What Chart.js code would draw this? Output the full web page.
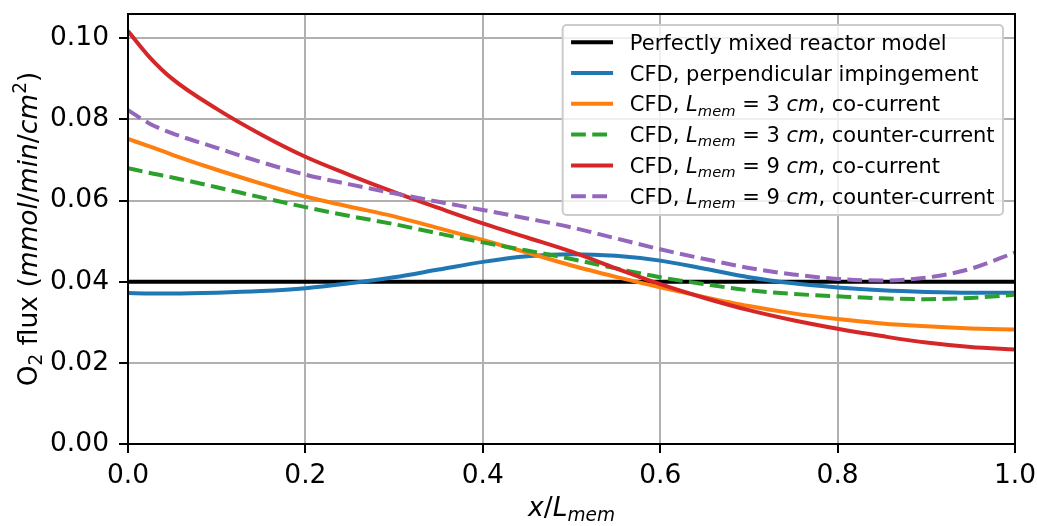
<!DOCTYPE html>
<html>
<head>
<meta charset="utf-8">
<script src="https://cdn.jsdelivr.net/npm/chart.js@4.4.1/dist/chart.umd.min.js"></script>
<style>
  html, body { margin: 0; padding: 0; background: #fff; }
  #wrap { width: 1037px; height: 526px; position: relative; }
</style>
</head>
<body>
<div id="wrap"><canvas id="fluxChart"></canvas></div>
<script>
// x / L_mem sample positions (shared by the CFD curves)
const xPos = [0, 0.025, 0.05, 0.1, 0.15, 0.2, 0.25, 0.3, 0.35, 0.4, 0.45, 0.5,
              0.55, 0.6, 0.65, 0.7, 0.75, 0.8, 0.85, 0.9, 0.95, 1.0];

// perfectly mixed reactor model (flat)
const mixedX = [0, 1];
const mixedY = [0.04, 0.04];

const perpImp = [0.0372, 0.0371, 0.0371, 0.0373, 0.0377, 0.0384, 0.0396, 0.0411, 0.0430, 0.0449, 0.0463, 0.0468,
                 0.0464, 0.0452, 0.0432, 0.0411, 0.0396, 0.0386, 0.0379, 0.0375, 0.0373, 0.0373];
const co3 = [0.0752, 0.0733, 0.0713, 0.0676, 0.0642, 0.0610, 0.0585, 0.0561, 0.0532, 0.0503, 0.0472, 0.0440,
             0.0412, 0.0386, 0.0362, 0.0340, 0.0322, 0.0308, 0.0297, 0.0290, 0.0285, 0.0282];
const counter3 = [0.0680, 0.0668, 0.0657, 0.0633, 0.0608, 0.0584, 0.0562, 0.0542, 0.0519, 0.0497, 0.0477, 0.0456,
                  0.0433, 0.0411, 0.0394, 0.0379, 0.0370, 0.0364, 0.0359, 0.0357, 0.0360, 0.0368];
const co9 = [0.1018, 0.0952, 0.0900, 0.0826, 0.0763, 0.0708, 0.0663, 0.0621, 0.0582, 0.0544, 0.0509, 0.0474,
             0.0433, 0.0394, 0.0360, 0.0330, 0.0305, 0.0284, 0.0266, 0.0250, 0.0239, 0.0233];
const counter9 = [0.0823, 0.0789, 0.0766, 0.0730, 0.0695, 0.0664, 0.0640, 0.0618, 0.0597, 0.0577, 0.0556, 0.0534,
                  0.0507, 0.0480, 0.0456, 0.0434, 0.0418, 0.0407, 0.0403, 0.0410, 0.0432, 0.0472];

const seriesLabels = [
  'Perfectly mixed reactor model',
  'CFD, perpendicular impingement',
  'CFD, $L_{mem} = 3 cm$, co-current',
  'CFD, $L_{mem} = 3 cm$, counter-current',
  'CFD, $L_{mem} = 9 cm$, co-current',
  'CFD, $L_{mem} = 9 cm$, counter-current'
];
const seriesColors = ['#000000', '#1f77b4', '#ff7f0e', '#2ca02c', '#d62728', '#9467bd'];
const seriesDashed = [false, false, false, true, false, true];

const xTicks = [0, 0.2, 0.4, 0.6, 0.8, 1.0];
const yTicks = [0, 0.02, 0.04, 0.06, 0.08, 0.10];

const xTitle = '$x/L_{mem}$';
const yTitle = 'O_2 flux ($mmol/min/cm^2$)';

const FONT = '"DejaVu Sans"';
const BIG = 26.5;   // tick labels and axis titles
const SMALL = 21;   // legend

// tiny mathtext-like parser: $..$ makes letters italic, _ / ^ make sub / superscripts
function parseRich(str) {
  const segs = [];
  let math = false;
  const push = (ch, script) => {
    const italic = math && /[A-Za-z]/.test(ch);
    const last = segs[segs.length - 1];
    if (last && last.italic === italic && last.script === script) last.text += ch;
    else segs.push({ text: ch, italic, script });
  };
  for (let i = 0; i < str.length; i++) {
    const ch = str[i];
    if (ch === '$') { math = !math; continue; }
    if (ch === '_' || ch === '^') {
      const script = ch === '_' ? -1 : 1;
      let group = str[i + 1];
      if (group === '{') {
        const end = str.indexOf('}', i);
        group = str.slice(i + 2, end);
        i = end;
      } else {
        i++;
      }
      for (const c of group) push(c, script);
      continue;
    }
    push(ch, 0);
  }
  return segs;
}

function segFont(seg, size) {
  return (seg.italic ? 'italic ' : '') + (seg.script ? size * 0.7 : size) + 'px ' + FONT;
}

function richWidth(ctx, segs, size) {
  let w = 0;
  segs.forEach(s => { ctx.font = segFont(s, size); w += ctx.measureText(s.text).width; });
  return w;
}

function drawRich(ctx, segs, x, y, size, align) {
  let cx = align === 'center' ? x - richWidth(ctx, segs, size) / 2 : x;
  ctx.textAlign = 'left';
  ctx.textBaseline = 'alphabetic';
  ctx.fillStyle = '#000';
  segs.forEach(s => {
    ctx.font = segFont(s, size);
    const dy = s.script === -1 ? 0.2 * size : s.script === 1 ? -0.4 * size : 0;
    ctx.fillText(s.text, cx, y + dy);
    cx += ctx.measureText(s.text).width;
  });
}

function roundRect(ctx, x, y, w, h, r) {
  ctx.beginPath();
  ctx.moveTo(x + r, y);
  ctx.arcTo(x + w, y, x + w, y + h, r);
  ctx.arcTo(x + w, y + h, x, y + h, r);
  ctx.arcTo(x, y + h, x, y, r);
  ctx.arcTo(x, y, x + w, y, r);
  ctx.closePath();
}

const decorPlugin = {
  id: 'decor',
  afterDatasetsDraw(chart) {
    const { ctx, chartArea: a } = chart;
    ctx.save();
    ctx.strokeStyle = '#000';
    ctx.lineWidth = 2;
    ctx.strokeRect(a.left, a.top, a.right - a.left, a.bottom - a.top);
    ctx.restore();
  },
  afterDraw(chart) {
    const { ctx, chartArea: a } = chart;
    ctx.save();

    // axis titles
    drawRich(ctx, parseRich(xTitle), (a.left + a.right) / 2, 516, BIG, 'center');
    ctx.save();
    ctx.translate(37, (a.top + a.bottom) / 2);
    ctx.rotate(-Math.PI / 2);
    drawRich(ctx, parseRich(yTitle), 0, 0, BIG, 'center');
    ctx.restore();

    // legend
    const fs = SMALL;
    const pad = 0.4 * fs, handleLen = 2 * fs, handlePad = 0.8 * fs, rowH = 30.8;
    const parsed = seriesLabels.map(parseRich);
    const textW = Math.max(...parsed.map(p => richWidth(ctx, p, fs)));
    const boxW = pad + handleLen + handlePad + textW + pad;
    const boxH = 190;
    const boxR = a.right - 12;
    const boxL = boxR - boxW;
    const boxT = a.top + 11;

    roundRect(ctx, boxL, boxT, boxW, boxH, 4);
    ctx.fillStyle = 'rgba(255,255,255,0.8)';
    ctx.fill();
    ctx.strokeStyle = '#cccccc';
    ctx.lineWidth = 2;
    ctx.stroke();

    parsed.forEach((segs, i) => {
      const cy = boxT + 17.2 + i * rowH;
      const ds = chart.data.datasets[i];
      ctx.beginPath();
      ctx.setLineDash(ds.borderDash || []);
      ctx.strokeStyle = ds.borderColor;
      ctx.lineWidth = ds.borderWidth;
      ctx.moveTo(boxL + pad, cy);
      ctx.lineTo(boxL + pad + handleLen, cy);
      ctx.stroke();
      ctx.setLineDash([]);
      drawRich(ctx, segs, boxL + pad + handleLen + handlePad, cy + 7.5, fs, 'left');
    });
    ctx.restore();
  }
};

const ySeries = [null, perpImp, co3, counter3, co9, counter9];

const datasets = seriesLabels.map((label, i) => {
  const pts = i === 0
    ? mixedX.map((x, k) => ({ x, y: mixedY[k] }))
    : xPos.map((x, k) => ({ x, y: ySeries[i][k] }));
  return {
    label,
    data: pts,
    borderColor: seriesColors[i],
    borderWidth: 4,
    borderDash: seriesDashed[i] ? [14.8, 6.4] : [],
    pointRadius: 0,
    fill: false,
    cubicInterpolationMode: 'monotone',
    order: seriesLabels.length - i
  };
});

const tickFont = { family: 'DejaVu Sans', size: BIG };

new Chart(document.getElementById('fluxChart'), {
  type: 'line',
  data: { datasets },
  options: {
    responsive: true,
    maintainAspectRatio: false,
    animation: false,
    layout: { padding: { top: 14, right: 22, left: 0, bottom: 0 } },
    plugins: {
      legend: { display: false },
      tooltip: { enabled: false }
    },
    scales: {
      x: {
        type: 'linear',
        min: 0, max: 1,
        afterBuildTicks: s => { s.ticks = xTicks.map(v => ({ value: v })); },
        afterFit: s => { s.height = 82; s.paddingLeft = 0; s.paddingRight = 0; },
        ticks: { font: tickFont, color: '#000', padding: 7, maxRotation: 0, autoSkip: false,
                 callback: v => v.toFixed(1) },
        grid: { color: '#b0b0b0', lineWidth: 2, tickColor: '#000', tickLength: 9, tickWidth: 2 },
        border: { display: false }
      },
      y: {
        type: 'linear',
        min: 0, max: 0.106,
        afterBuildTicks: s => { s.ticks = yTicks.map(v => ({ value: v })); },
        afterFit: s => { s.width = 128; s.paddingTop = 0; s.paddingBottom = 0; },
        ticks: { font: tickFont, color: '#000', padding: 10, autoSkip: false,
                 callback: v => v.toFixed(2) },
        grid: { color: '#b0b0b0', lineWidth: 2, tickColor: '#000', tickLength: 9, tickWidth: 2 },
        border: { display: false }
      }
    }
  },
  plugins: [decorPlugin]
});
</script>
</body>
</html>
